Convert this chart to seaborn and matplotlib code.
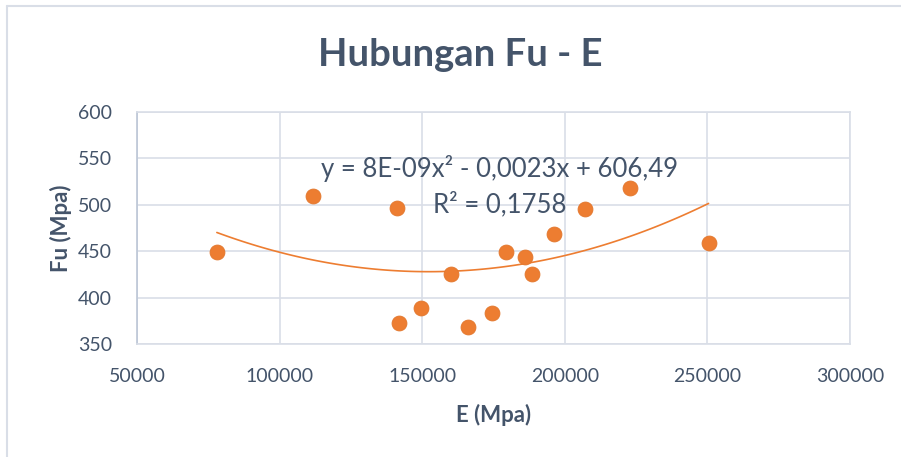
import numpy as np
import pandas as pd
import matplotlib
matplotlib.use("Agg")
import matplotlib.pyplot as plt
import seaborn as sns

# Data
E_mpa = [78000, 111600, 141100, 141700, 149700, 160100, 166100, 174400,
         179300, 186100, 188400, 196100, 207100, 222900, 250400]
Fu_mpa = [449.5, 509.7, 497.0, 373.0, 388.6, 425.5, 368.5, 383.2,
          449.5, 444.0, 425.8, 468.5, 496.0, 517.6, 458.5]
x_ticks = [50000, 100000, 150000, 200000, 250000, 300000]
y_ticks = [350, 400, 450, 500, 550, 600]
title = "Hubungan Fu - E"
eq_text = "y = 8E-09x² - 0,0023x + 606,49"
r2_text = "R² = 0,1758"

df = pd.DataFrame({"E": E_mpa, "Fu": Fu_mpa})

sns.set_theme(style="white")
plt.rcParams['font.family'] = ['Lato', 'DejaVu Sans']

TXT = "#44546A"
ORANGE = "#ED7D31"
GRID = "#D9DEE7"

fig = plt.figure(figsize=(9.01, 4.57), dpi=100)
ax = fig.add_axes([137/901, 1-344/457, (850-137)/901, (344-112)/457])

sns.regplot(data=df, x="E", y="Fu", order=2, ci=None, scatter=False,
            truncate=True, ax=ax, line_kws=dict(color=ORANGE, lw=1.2, zorder=3))
sns.scatterplot(data=df, x="E", y="Fu", ax=ax, color=ORANGE, s=115,
                edgecolor="#E2762C", linewidth=0.6, zorder=4)

ax.set_xlim(50000, 300000)
ax.set_ylim(350, 600)
ax.set_xticks(x_ticks)
ax.set_yticks(y_ticks)
ax.set_xticklabels([str(v) for v in x_ticks], fontsize=14, color=TXT)
ax.set_yticklabels([str(v) for v in y_ticks], fontsize=14, color=TXT)
ax.tick_params(axis="y", length=0, pad=18)
ax.tick_params(axis="x", length=0, pad=17)
ax.grid(True, color=GRID, lw=1.2)
ax.set_axisbelow(True)
for side in ["top", "right", "bottom"]:
    ax.spines[side].set_color(GRID)
    ax.spines[side].set_linewidth(1.2)
ax.spines["left"].set_color("#BCC6D6")
ax.spines["left"].set_linewidth(1.2)

ax.set_xlabel("E (Mpa)", fontsize=16, fontweight="bold", color=TXT, labelpad=14)
ax.set_ylabel("Fu (Mpa)", fontsize=16, fontweight="bold", color=TXT, labelpad=4)

fig.text(460/901, 1-55/457, title, ha="center", va="center",
         fontsize=27.5, fontweight="bold", color=TXT)
fig.text(500/901, 1-168/457, eq_text, ha="center", va="center",
         fontsize=18.5, color=TXT)
fig.text(500/901, 1-204/457, r2_text, ha="center", va="center",
         fontsize=18.5, color=TXT)

# chart border (left and top)
fig.add_artist(plt.Line2D([7/901, 7/901], [0, 1-6/457], transform=fig.transFigure,
                          color=GRID, lw=1.5))
fig.add_artist(plt.Line2D([7/901, 1], [1-6/457, 1-6/457], transform=fig.transFigure,
                          color=GRID, lw=1.5))

fig.savefig("out.png", dpi=100)
